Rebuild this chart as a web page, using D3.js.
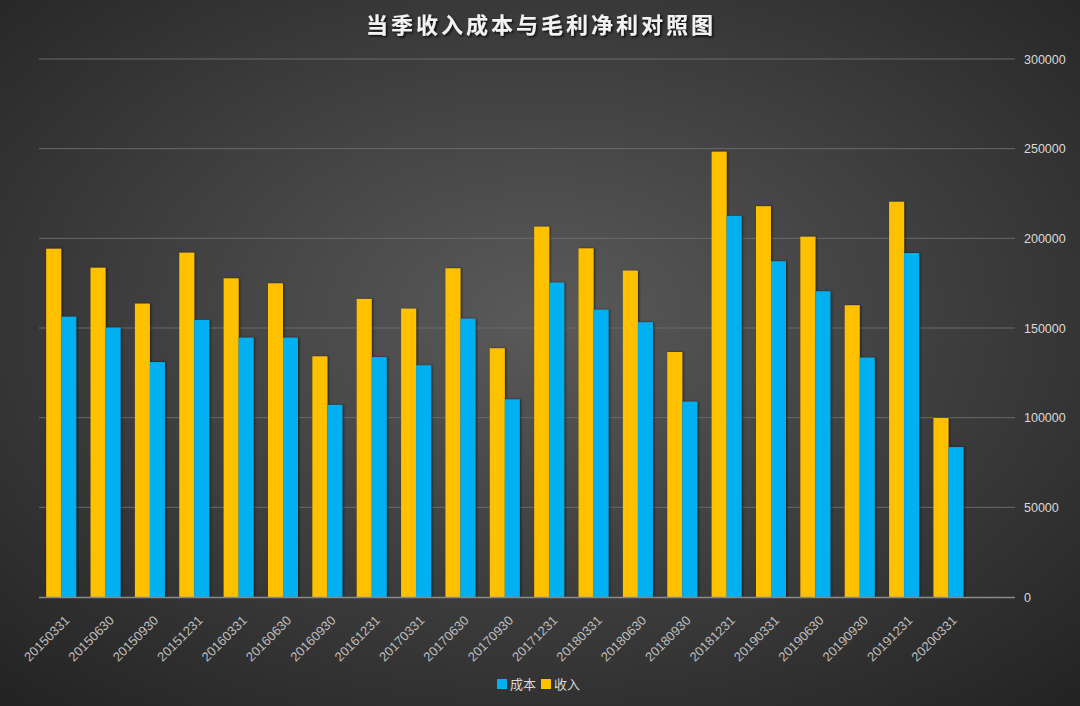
<!DOCTYPE html>
<html><head><meta charset="utf-8">
<script src="https://cdn.jsdelivr.net/npm/d3@7/dist/d3.min.js"></script>
<style>html,body{margin:0;padding:0;background:#333;}svg{display:block;}</style>
</head><body>
<svg id="c" width="1080" height="706"></svg>
<script>
const categories = ["20150331","20150630","20150930","20151231","20160331","20160630","20160930","20161231","20170331","20170630","20170930","20171231","20180331","20180630","20180930","20181231","20190331","20190630","20190930","20191231","20200331",""];
const revenue = [194200,183600,163600,192000,177700,174900,134200,166200,160800,183300,138700,206500,194400,182000,136600,248300,217900,200900,162700,220400,99800,null];
const cost    = [156300,150200,131000,154500,144600,144600,107100,133800,129200,155200,110200,175300,160200,153200,108900,212500,187200,170500,133500,191800,83600,null];
const yTicks = [0,50000,100000,150000,200000,250000,300000];
const seriesNames = ["成本","收入"];
const colors = {"成本":"#00B0F0","收入":"#FFC000"};

const W=1080,H=706;
const svg=d3.select("#c");
const defs=svg.append("defs");
const rg=defs.append("radialGradient").attr("id","bg").attr("cx","50%").attr("cy","45%").attr("r","75%");
rg.append("stop").attr("offset","0%").attr("stop-color","#5a5a5a");
rg.append("stop").attr("offset","100%").attr("stop-color","#222222");
const f=defs.append("filter").attr("id","sh").attr("x","-20%").attr("y","-5%").attr("width","160%").attr("height","110%");
f.append("feDropShadow").attr("dx",1.2).attr("dy",0).attr("stdDeviation",1.3).attr("flood-color","#000").attr("flood-opacity",0.55);
const ft=defs.append("filter").attr("id","tsh");
ft.append("feDropShadow").attr("dx",1.5).attr("dy",1.5).attr("stdDeviation",1).attr("flood-color","#000").attr("flood-opacity",0.8);

svg.append("rect").attr("width",W).attr("height",H).attr("fill","url(#bg)");

const x0=39, x1=1015, yTop=59, yBot=597;
const x=d3.scaleBand().domain(categories.map((d,i)=>i)).range([x0,x1]).paddingInner(0).paddingOuter(0);
const y=d3.scaleLinear().domain([0,300000]).range([yBot,yTop]);

// gridlines
svg.append("g").selectAll("line").data(yTicks.slice(1)).join("line")
  .attr("x1",x0).attr("x2",x1).attr("y1",d=>y(d)).attr("y2",d=>y(d))
  .attr("stroke","#6a6a6a").attr("stroke-width",1);

// y axis on right
const ya=svg.append("g").attr("transform",`translate(${x1},0)`)
  .call(d3.axisRight(y).tickValues(yTicks).tickSize(0).tickPadding(9).tickFormat(d3.format("d")));
ya.select(".domain").remove();
ya.selectAll("text").attr("fill","#d9d9d9").style("font-family","Liberation Sans, Arial, sans-serif").style("font-size","12.5px");

// bars
const bw=15;
const g=svg.append("g");
categories.forEach((c,i)=>{
  const cx=x(i)+x.bandwidth()/2;
  if(revenue[i]!=null){
    g.append("rect").attr("x",cx-bw).attr("y",y(revenue[i])).attr("width",bw).attr("height",y(0)-y(revenue[i]))
      .attr("fill",colors["收入"]).attr("filter","url(#sh)");
  }
  if(cost[i]!=null){
    g.append("rect").attr("x",cx).attr("y",y(cost[i])).attr("width",bw).attr("height",y(0)-y(cost[i]))
      .attr("fill",colors["成本"]).attr("filter","url(#sh)");
  }
});

// x axis line
svg.append("line").attr("x1",x0).attr("x2",x1).attr("y1",yBot+0.5).attr("y2",yBot+0.5).attr("stroke","#8a8a8a").attr("stroke-width",1.5);

// x labels
const xa=svg.append("g").attr("transform",`translate(0,${yBot})`)
  .call(d3.axisBottom(x).tickFormat(i=>categories[i]).tickSize(0).tickPadding(0));
xa.select(".domain").remove();
xa.selectAll("text")
  .attr("fill","#bdbdbd").style("font-family","Liberation Sans, Arial, sans-serif").style("font-size","13px")
  .attr("text-anchor","end").attr("dy","0.35em")
  .attr("transform","translate(6,21) rotate(-45)")
  .attr("y",0);

// title
svg.append("text").attr("x",541).attr("y",33).attr("text-anchor","middle")
  .attr("fill","#f2f2f2").attr("filter","url(#tsh)")
  .style("font-family","Noto Sans CJK SC, sans-serif").style("font-size","22px").style("font-weight","bold").style("letter-spacing","3px")
  .text("当季收入成本与毛利净利对照图");

// legend
const lg=svg.append("g").attr("transform","translate(497,684)");
let lx=0;
seriesNames.forEach(n=>{
  lg.append("rect").attr("x",lx).attr("y",-5).attr("width",10).attr("height",10).attr("fill",colors[n]);
  lg.append("text").attr("x",lx+13).attr("y",0).attr("dy","0.35em").attr("fill","#d9d9d9")
    .style("font-family","Noto Sans CJK SC, sans-serif").style("font-size","13px").text(n);
  lx+=44;
});
</script>
</body></html>
